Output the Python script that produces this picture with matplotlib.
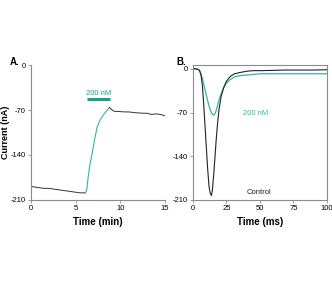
import matplotlib.pyplot as plt

plt.rcParams['font.family'] = ['Liberation Sans', 'DejaVu Sans']
plt.rcParams['axes.unicode_minus'] = False

green = '#2fb8a2'
bar_green = '#17a08a'
spine_gray = '#8c8c8c'

# panel A: current vs time (min)
a_pre_t = [0, 0.5, 1, 1.5, 2, 2.5, 3, 3.5, 4, 4.5, 5, 5.5, 6.1]
a_pre_i = [-189, -190, -191, -192, -192, -193, -194, -195, -196, -197, -198, -199, -199]
a_drug_t = [6.1, 6.25, 6.4, 6.6, 6.85, 7.1, 7.4, 7.8, 8.25, 8.55, 8.8]
a_drug_i = [-199, -194, -175, -155, -138, -118, -97, -84, -75, -70, -66]
a_post_t = [8.8, 9.0, 9.3, 10, 10.5, 11, 11.5, 12, 12.5, 13, 13.5, 14, 14.5, 15]
a_post_i = [-66, -69, -72, -72.5, -73, -73, -74, -74.5, -75, -75, -77, -76, -77, -79]
bar_t = [6.3, 8.9]
bar_i = -53

# panel B: current vs time (ms)
b_t = [0, 2, 4, 5, 6, 7, 8, 9, 10, 11, 12, 13, 13.8, 14.5, 15.5, 16.5, 17.5, 18.5,
       19.5, 21, 23, 25, 28, 31, 35, 40, 45, 50, 60, 70, 80, 90, 100]
b_control = [0, 0, -1, -3, -10, -25, -55, -90, -125, -160, -188, -200, -203, -195, -170,
             -140, -110, -85, -65, -45, -30, -20, -12, -8, -6, -4, -3, -3, -2.5, -2, -2, -2, -1.5]
b_drug = [0, 0, -1, -3, -8, -15, -24, -33, -42, -51, -59, -66, -70, -73, -74, -72, -66, -58,
          -50, -40, -30, -23, -17, -13, -11, -10, -9, -8, -8, -8, -8, -8, -8]

fig = plt.figure(figsize=(3.32, 2.84), dpi=100)
axA = fig.add_axes([0.093, 0.296, 0.404, 0.475])
axB = fig.add_axes([0.581, 0.296, 0.404, 0.475])

axA.plot(a_pre_t, a_pre_i, color='#333333', lw=0.7)
axA.plot(a_drug_t, a_drug_i, color=green, lw=0.8)
axA.plot(a_post_t, a_post_i, color='#333333', lw=0.7)
axA.plot(bar_t, [bar_i, bar_i], color=bar_green, lw=2.2, solid_capstyle='butt')
axA.text(sum(bar_t) / 2, bar_i + 3, '200 nM', color=bar_green, fontsize=5.5,
         ha='center', va='bottom')
axA.set_xlim(0, 15)
axA.set_ylim(-210, 0)
axA.set_xticks([0, 5, 10, 15])
axA.set_yticks([0, -70, -140, -210])
axA.set_xlabel('Time (min)', fontsize=7, fontweight='bold', labelpad=4)
axA.set_ylabel('Current (nA)', fontsize=6.5, fontweight='bold')
axA.yaxis.set_label_coords(-0.155, 0.5)
for s in ['top', 'right']:
    axA.spines[s].set_visible(False)

axB.plot(b_t, b_drug, color=green, lw=0.9)
axB.plot(b_t, b_control, color='#222222', lw=0.8)
axB.text(37, -72, '200 nM', color=green, fontsize=5.5, va='center')
axB.text(40, -198, 'Control', color='#222222', fontsize=5.5, va='center')
axB.set_xlim(0, 100)
axB.set_ylim(-210, 6)
axB.set_xticks([0, 25, 50, 75, 100])
axB.set_yticks([0, -70, -140, -210])
axB.set_xlabel('Time (ms)', fontsize=7, fontweight='bold', labelpad=4)

for ax in (axA, axB):
    for s in ax.spines.values():
        s.set_color(spine_gray)
        s.set_linewidth(0.8)
    ax.tick_params(labelsize=5.5, length=2, width=0.6, color=spine_gray, pad=1.5)

fig.text(10 / 332, 1 - 62 / 284, 'A.', fontsize=7, fontweight='bold', va='center')
fig.text(176 / 332, 1 - 62 / 284, 'B.', fontsize=7, fontweight='bold', va='center')

fig.savefig('out.png', dpi=100)
